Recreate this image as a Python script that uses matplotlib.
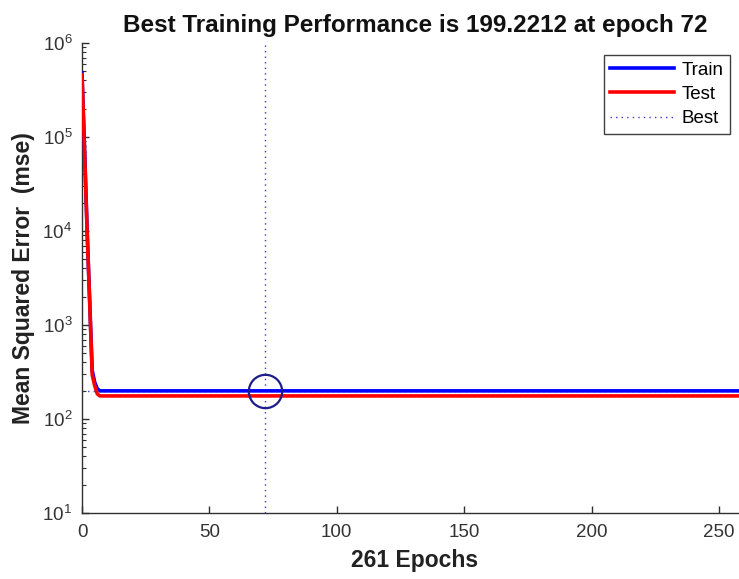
import matplotlib
matplotlib.use("Agg")
import matplotlib.pyplot as plt
from matplotlib.ticker import LogLocator, NullFormatter

plt.rcParams['font.family'] = ['Liberation Sans', 'DejaVu Sans']

# Data
train_epochs = [0, 1, 2, 3, 4, 5, 6, 7, 72, 261]
train_mse = [4.8e5, 7.5e4, 1.05e4, 1.85e3, 3.3e2, 2.45e2, 2.1e2, 199.2212, 199.2212, 199.2212]
test_epochs = [0, 1, 2, 3, 4, 5, 6, 7, 72, 261]
test_mse = [4.6e5, 7.0e4, 1.0e4, 1.8e3, 2.95e2, 2.25e2, 1.85e2, 176.0, 176.0, 176.0]
best_epoch = 72
best_perf = 199.2212
total_epochs = 261
xticks = [0, 50, 100, 150, 200, 250]

AX_L, AX_R = 82, 747
fig = plt.figure(figsize=(7.39, 5.79), dpi=100)
ax = fig.add_axes([AX_L/739, 66/579, (AX_R-AX_L)/739, 470/579])

ax.plot(train_epochs, train_mse, color='#0000ff', lw=2.6, label='Train', zorder=3)
ax.plot(test_epochs, test_mse, color='#ff0000', lw=2.6, label='Test', zorder=4)
ax.axvline(best_epoch, color='#3a3ad0', lw=1.0, ls=(0, (1, 3)), label='Best', zorder=2)
ax.axhline(best_perf, color='#3a3ad0', lw=1.0, ls=(0, (1, 3)), zorder=2)
ax.plot([best_epoch], [best_perf], marker='o', ms=24, mfc='none', mec='#1c1c8a',
        mew=1.6, ls='none', zorder=5)

ax.set_yscale('log')
ax.set_ylim(10, 1e6)
ax.set_xlim(0, total_epochs)
ax.set_xticks(xticks)
ax.yaxis.set_major_locator(LogLocator(base=10, numticks=10))
ax.yaxis.set_minor_locator(LogLocator(base=10, subs=range(2, 10), numticks=100))
ax.yaxis.set_minor_formatter(NullFormatter())

for s in ['top', 'right']:
    ax.spines[s].set_visible(False)
for s in ['left', 'bottom']:
    ax.spines[s].set_color('#303030')
    ax.spines[s].set_linewidth(1.0)

ax.tick_params(axis='both', which='major', direction='in', length=5, width=1.0,
               color='#303030', labelcolor='#333333', labelsize=13.5)
ax.tick_params(axis='y', which='minor', direction='in', length=3, width=0.8, color='#303030')
ax.tick_params(axis='x', pad=8)
ax.tick_params(axis='y', pad=7)

cx = (415 - AX_L) / (AX_R - AX_L)
ax.set_title('Best Training Performance is 199.2212 at epoch 72', fontsize=17.5,
             fontweight='bold', color='#111111', pad=8, x=cx)
ax.set_xlabel('261 Epochs', fontsize=16.5, fontweight='bold', color='#222222', labelpad=6,
              x=cx)
ax.set_ylabel('Mean Squared Error  (mse)', fontsize=16.5, fontweight='bold', color='#222222',
              labelpad=5)

leg = ax.legend(loc='upper right', bbox_to_anchor=(730/739, 1 - 55/579),
                bbox_transform=fig.transFigure, fontsize=13.5, fancybox=False,
                edgecolor='#404040', framealpha=1, handlelength=3.4, borderpad=0.35,
                labelspacing=0.38, handletextpad=0.4, borderaxespad=0)
leg.get_frame().set_linewidth(1.0)

fig.savefig('out.png', dpi=100)
